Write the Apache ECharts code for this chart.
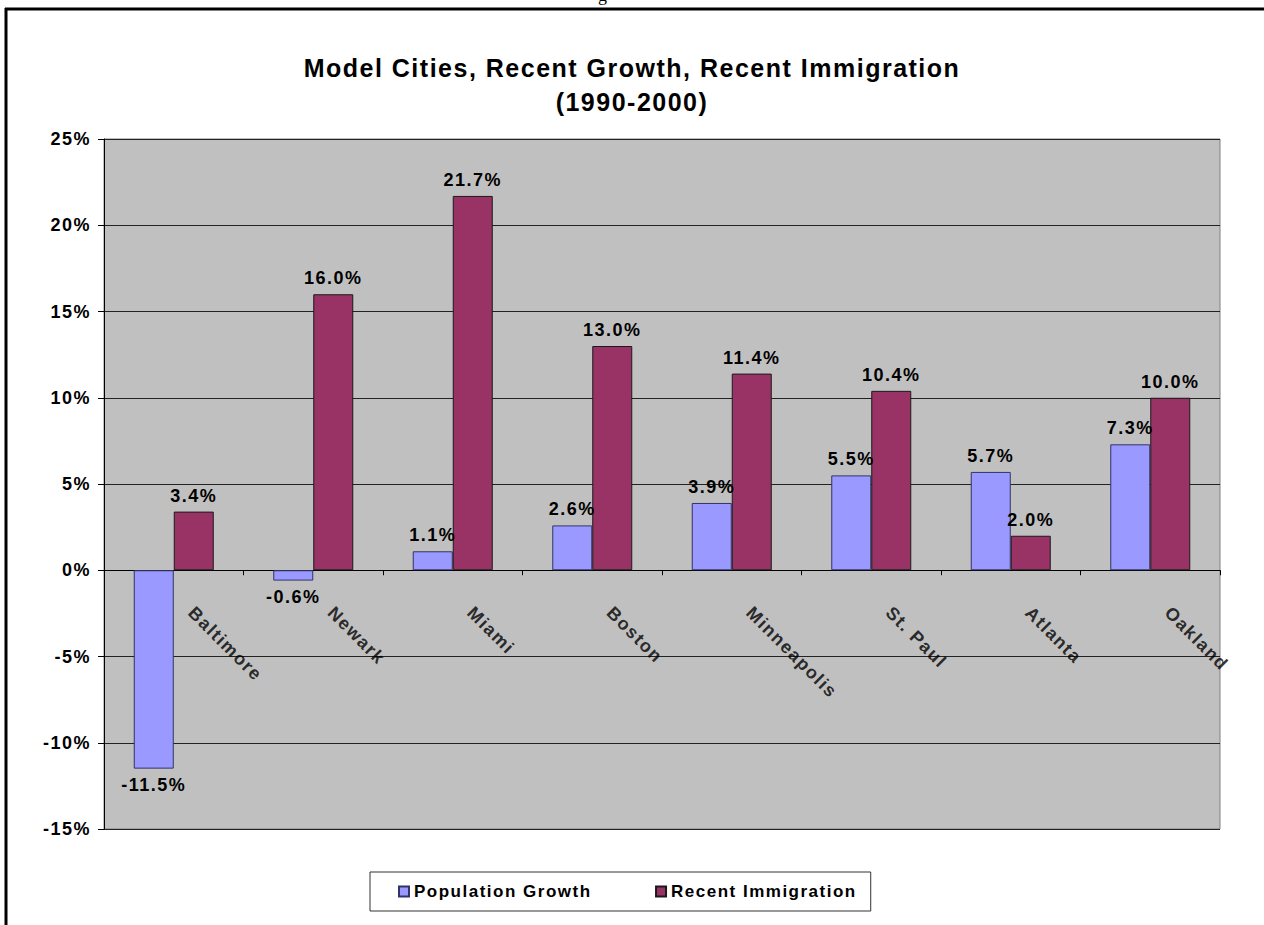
<!DOCTYPE html>
<html>
<head>
<meta charset="utf-8">
<style>
  html, body { margin: 0; padding: 0; background: #fff; }
  #chart { width: 1264px; height: 925px; }
  /* slightly open tracking, as in the printed figure */
  #chart text { letter-spacing: 1.5px; }
</style>
<script src="https://cdn.jsdelivr.net/npm/echarts@6/dist/echarts.min.js"></script>
</head>
<body>
<div id="chart"></div>
<script>
// City data, 1990-2000 (percent)
const cities = ['Baltimore', 'Newark', 'Miami', 'Boston', 'Minneapolis', 'St. Paul', 'Atlanta', 'Oakland'];
const populationGrowth = [-11.5, -0.6, 1.1, 2.6, 3.9, 5.5, 5.7, 7.3];
const recentImmigration = [3.4, 16.0, 21.7, 13.0, 11.4, 10.4, 2.0, 10.0];
const seriesNames = ['Population Growth', 'Recent Immigration'];
const titleLines = ['Model Cities, Recent Growth, Recent Immigration', '(1990-2000)'];

const FONT = 'Liberation Sans, Arial, sans-serif';

// value labels sit above positive bars and below negative ones
function withLabels(values) {
  return values.map(v => ({
    value: v,
    label: { position: v < 0 ? 'bottom' : 'top' }
  }));
}

const labelStyle = {
  show: true,
  distance: 7,
  color: '#000',
  fontFamily: FONT,
  fontWeight: 'bold',
  fontSize: 18,
  formatter: p => p.value.toFixed(1) + '%'
};

const chart = echarts.init(document.getElementById('chart'), null, { renderer: 'svg' });

chart.setOption({
  backgroundColor: '#fff',
  animation: false,
  title: {
    text: titleLines.join('\n'),
    left: 'center',
    top: 51,
    padding: 0,
    textStyle: {
      fontFamily: FONT,
      fontWeight: 'bold',
      fontSize: 25,
      lineHeight: 34,
      color: '#000'
    }
  },
  legend: {
    left: 370,
    top: 872,
    orient: 'horizontal',
    backgroundColor: '#fff',
    borderColor: '#333',
    borderWidth: 1,
    borderRadius: 0,
    padding: [10, 41, 10, 28],
    itemGap: 89,
    itemWidth: 10,
    itemHeight: 10,
    icon: 'rect',
    textStyle: {
      fontFamily: FONT,
      fontWeight: 'bold',
      fontSize: 17,
      lineHeight: 19,
      color: '#000'
    },
    data: seriesNames
  },
  grid: {
    left: 104,
    right: 44,
    top: 139,
    bottom: 96,
    outerBoundsMode: 'none',
    containLabel: false,
    show: true,
    backgroundColor: '#C0C0C0',
    borderColor: '#808080',
    borderWidth: 1
  },
  xAxis: {
    type: 'category',
    data: cities,
    axisLine: { show: true, onZero: true, lineStyle: { color: '#000', width: 1 } },
    axisTick: { show: true, inside: false, length: 5, lineStyle: { color: '#000' } },
    // city names are drawn along the zero line by the helper series below
    axisLabel: { show: false },
    splitLine: { show: false }
  },
  yAxis: {
    type: 'value',
    min: -15,
    max: 25,
    interval: 5,
    axisLine: { show: true, lineStyle: { color: '#000', width: 1 } },
    axisTick: { show: true, inside: false, length: 6, lineStyle: { color: '#000' } },
    axisLabel: {
      formatter: '{value}%',
      margin: 13,
      color: '#000',
      fontFamily: FONT,
      fontWeight: 'bold',
      fontSize: 18
    },
    splitLine: { show: true, lineStyle: { color: '#222', width: 1 } }
  },
  series: [
    {
      name: seriesNames[0],
      type: 'bar',
      barWidth: 40,
      barGap: '0%',
      data: withLabels(populationGrowth),
      itemStyle: { color: '#9999FF', borderColor: '#333366', borderWidth: 1 },
      label: labelStyle
    },
    {
      name: seriesNames[1],
      type: 'bar',
      barWidth: 40,
      barGap: '0%',
      data: withLabels(recentImmigration),
      itemStyle: { color: '#993366', borderColor: '#1a1a1a', borderWidth: 1 },
      label: labelStyle
    },
    {
      // category names hanging below the zero line, slanted 45°
      name: 'cityNames',
      type: 'scatter',
      silent: true,
      symbolSize: 1,
      itemStyle: { color: 'rgba(0,0,0,0)' },
      z: 5,
      data: cities.map(c => [c, 0]),
      label: {
        show: true,
        position: [18, 40],
        rotate: -45,
        align: 'left',
        verticalAlign: 'middle',
        color: '#000',
        fontFamily: FONT,
        fontWeight: 'bold',
        fontSize: 18,
        formatter: p => p.value[0]
      }
    }
  ],
  graphic: [
    // page frame around the figure
    { type: 'line', shape: { x1: 5, y1: 9, x2: 1264, y2: 9 }, style: { stroke: '#000', lineWidth: 3 }, silent: true },
    { type: 'line', shape: { x1: 6, y1: 8, x2: 6, y2: 925 }, style: { stroke: '#000', lineWidth: 3 }, silent: true },
    // tail of the preceding heading, cut off by the page edge
    { type: 'text', left: 598, top: -14, style: { text: 'g', font: '18px "Liberation Serif", serif', fill: '#000' }, silent: true }
  ]
});
</script>
</body>
</html>
